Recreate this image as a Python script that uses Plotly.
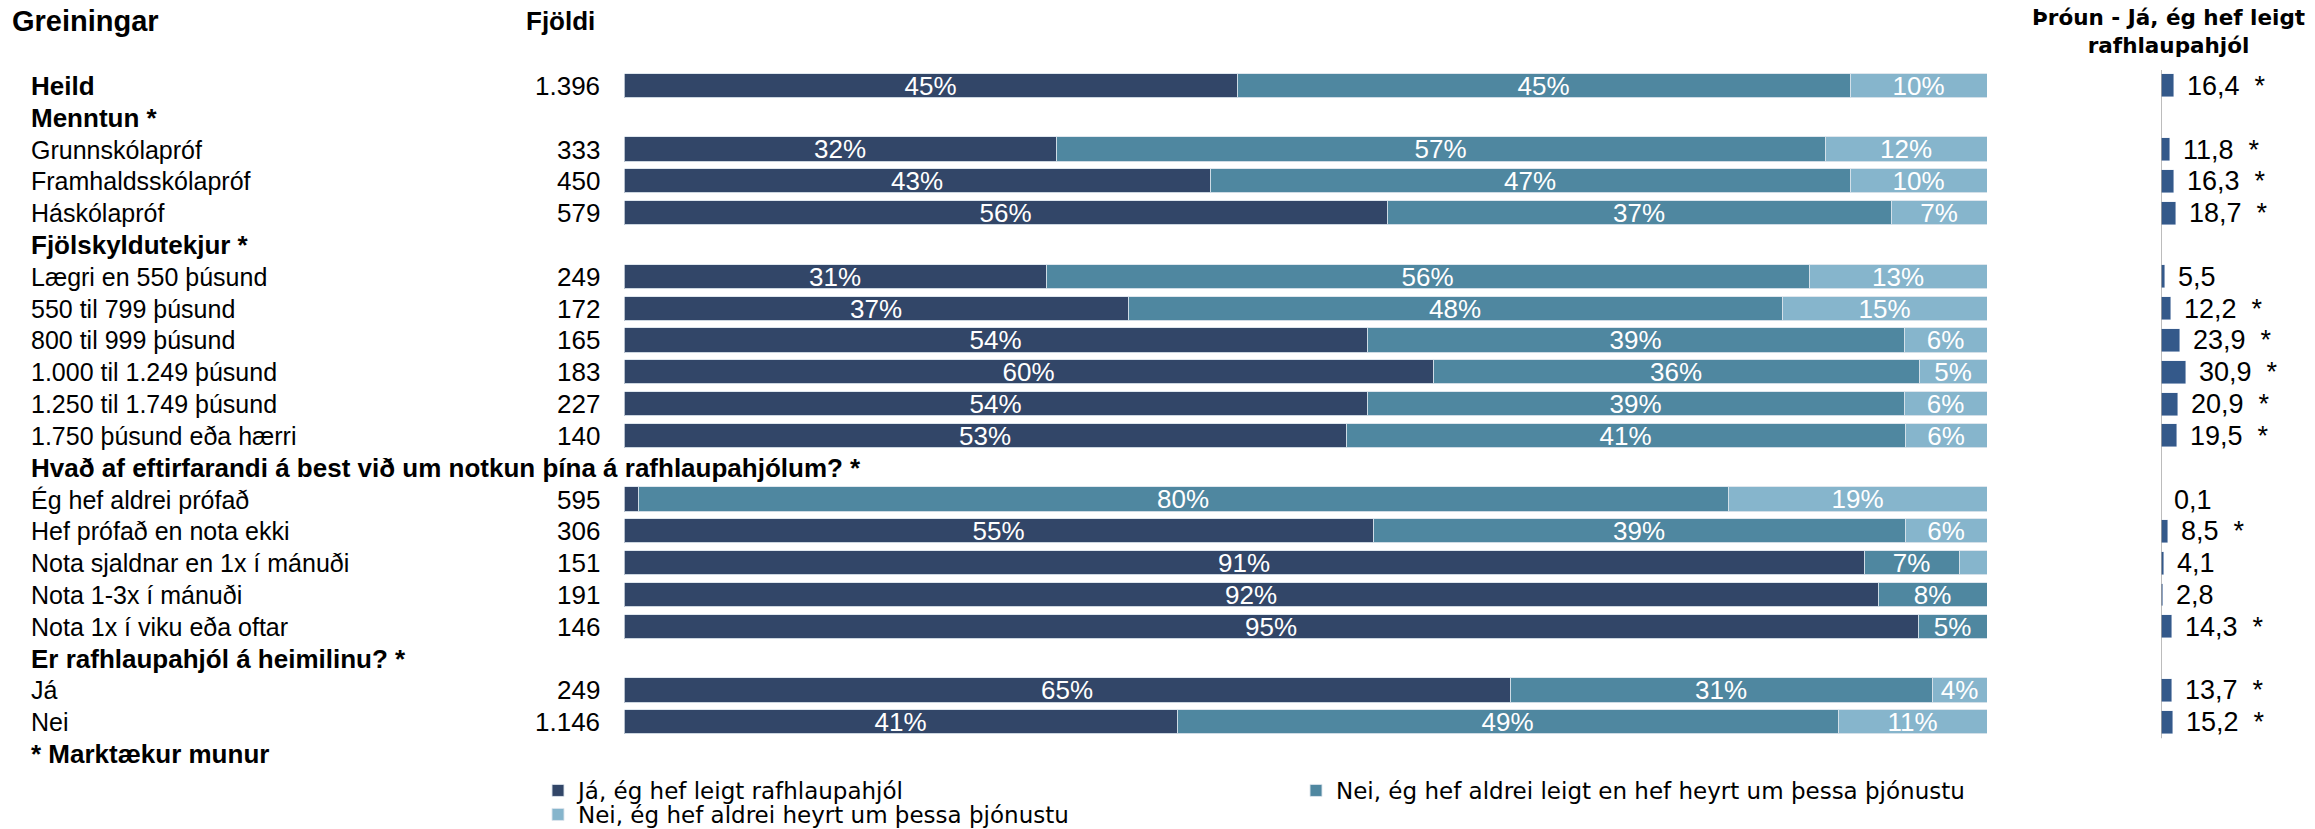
import plotly.graph_objects as go

rows = ["Heild", "Menntun *", "Grunnskólapróf", "Framhaldsskólapróf", "Háskólapróf",
        "Fjölskyldutekjur *", "Lægri en 550 þúsund", "550 til 799 þúsund", "800 til 999 þúsund",
        "1.000 til 1.249 þúsund", "1.250 til 1.749 þúsund", "1.750 þúsund eða hærri",
        "Hvað af eftirfarandi á best við um notkun þína á rafhlaupahjólum? *",
        "Ég hef aldrei prófað", "Hef prófað en nota ekki", "Nota sjaldnar en 1x í mánuði",
        "Nota 1-3x í mánuði", "Nota 1x í viku eða oftar",
        "Er rafhlaupahjól á heimilinu? *", "Já", "Nei", "* Marktækur munur"]
bold_rows = [0, 1, 5, 12, 18, 21]
counts = [1396, None, 333, 450, 579, None, 249, 172, 165, 183, 227, 140, None,
          595, 306, 151, 191, 146, None, 249, 1146, None]
ja = [45, None, 32, 43, 56, None, 31, 37, 54, 60, 54, 53, None, 1, 55, 91, 92, 95, None, 65, 41, None]
nei_heyrt = [45, None, 57, 47, 37, None, 56, 48, 39, 36, 39, 41, None, 80, 39, 7, 8, 5, None, 31, 49, None]
nei_aldrei = [10, None, 12, 10, 7, None, 13, 15, 6, 5, 6, 6, None, 19, 6, 2, 0, 0, None, 4, 11, None]
trend = [16.4, None, 11.8, 16.3, 18.7, None, 5.5, 12.2, 23.9, 30.9, 20.9, 19.5, None,
         0.1, 8.5, 4.1, 2.8, 14.3, None, 13.7, 15.2, None]
trend_sig = [True, None, True, True, True, None, False, True, True, True, True, True, None,
             False, True, False, False, True, None, True, True, None]
series_names = ["Já, ég hef leigt rafhlaupahjól",
                "Nei, ég hef aldrei leigt en hef heyrt um þessa þjónustu",
                "Nei, ég hef aldrei heyrt um þessa þjónustu"]
colors = ["#324668", "#4F87A0", "#86B5CC"]
trend_color = "#34598A"

W, H = 2315, 829
FONT = "Liberation Sans, Arial, sans-serif"
LFONT = "DejaVu Sans, sans-serif"

fig = go.Figure()
data_idx = [i for i, v in enumerate(ja) if v is not None]
series = [ja, nei_heyrt, nei_aldrei]
legend_ids = ["legend", "legend2", "legend3"]
for s, name, col, lg in zip(series, series_names, colors, legend_ids):
    xs, ys, tx = [], [], []
    for i in data_idx:
        tot = ja[i] + nei_heyrt[i] + nei_aldrei[i]
        xs.append(s[i] / tot * 100)
        ys.append(i)
        tx.append(f"{s[i]}%" if s[i] >= 3 else "")
    fig.add_trace(go.Bar(
        x=xs, y=ys, orientation="h", name=name, marker_color=col,
        marker_line=dict(color="rgba(220,228,236,0.9)", width=1),
        width=0.76, text=tx, textposition="inside", insidetextanchor="middle",
        constraintext="none", textangle=0,
        textfont=dict(color="white", size=26, family=FONT),
        hoverinfo="skip", xaxis="x", yaxis="y", legend=lg))

t_idx = [i for i, v in enumerate(trend) if v is not None]
fig.add_trace(go.Bar(
    x=[trend[i] for i in t_idx], y=t_idx, orientation="h", marker_color=trend_color,
    width=0.72, showlegend=False, hoverinfo="skip", xaxis="x2", yaxis="y"))

ann = []
for i, lab in enumerate(rows):
    ann.append(dict(x=29 / W, xref="paper", y=i, yref="y", xanchor="left", yanchor="middle",
                    text=f"<b>{lab}</b>" if i in bold_rows else lab, showarrow=False,
                    font=dict(size=26 if i in bold_rows else 25, family=FONT, color="black")))
    if counts[i] is not None:
        ann.append(dict(x=602 / W, xref="paper", y=i, yref="y", xanchor="right", yanchor="middle",
                        text=f"{counts[i]:,}".replace(",", "."), showarrow=False,
                        font=dict(size=26, family=FONT, color="black")))
    if trend[i] is not None:
        t = f"{trend[i]:.1f}".replace(".", ",") + ("\u00a0\u00a0*" if trend_sig[i] else "")
        ann.append(dict(x=trend[i], xref="x2", y=i, yref="y", xanchor="left", yanchor="middle",
                        xshift=11, text=t, showarrow=False,
                        font=dict(size=27, family=FONT, color="black")))

def py(px):
    return (770 - px) / 700

ann.append(dict(x=10 / W, xref="paper", y=py(21), yref="paper", xanchor="left", yanchor="middle",
                text="<b>Greiningar</b>", showarrow=False, font=dict(size=29, family=FONT, color="black")))
ann.append(dict(x=597 / W, xref="paper", y=py(21), yref="paper", xanchor="right", yanchor="middle",
                text="<b>Fjöldi</b>", showarrow=False, font=dict(size=26, family=FONT, color="black")))
ann.append(dict(x=2168 / W, xref="paper", y=py(31), yref="paper", xanchor="center", yanchor="middle",
                text="<b>Þróun - Já, ég hef leigt<br>rafhlaupahjól</b>", showarrow=False,
                font=dict(size=21.5, family=LFONT, color="black")))

def leg(xpx, ytop):
    return dict(orientation="h", xref="container", yref="container", x=xpx / W, xanchor="left",
                y=1 - ytop / H, yanchor="top", font=dict(size=23, family=LFONT, color="black"),
                bgcolor="rgba(0,0,0,0)", itemwidth=30)

fig.update_layout(
    width=W, height=H, margin=dict(l=0, r=0, t=70, b=59, autoexpand=False),
    paper_bgcolor="white", plot_bgcolor="white", barmode="stack", bargap=0,
    xaxis=dict(domain=[624.5 / W, 1987 / W], range=[0, 100], visible=False),
    xaxis2=dict(domain=[2161 / W, 1.0], range=[0, 192.5], visible=False, anchor="y"),
    yaxis=dict(range=[21.5, -0.5], visible=False),
    annotations=ann,
    shapes=[dict(type="line", xref="x2", yref="y", x0=0, x1=0, y0=-0.5, y1=20.5,
                 line=dict(color="#A6A6A6", width=1.5))],
    legend=leg(538, 769),
    legend2=leg(1296, 769),
    legend3=leg(538, 793),
)
fig.write_html("out.html", config={"displayModeBar": False},
               post_script="document.body.style.margin='0px';")
